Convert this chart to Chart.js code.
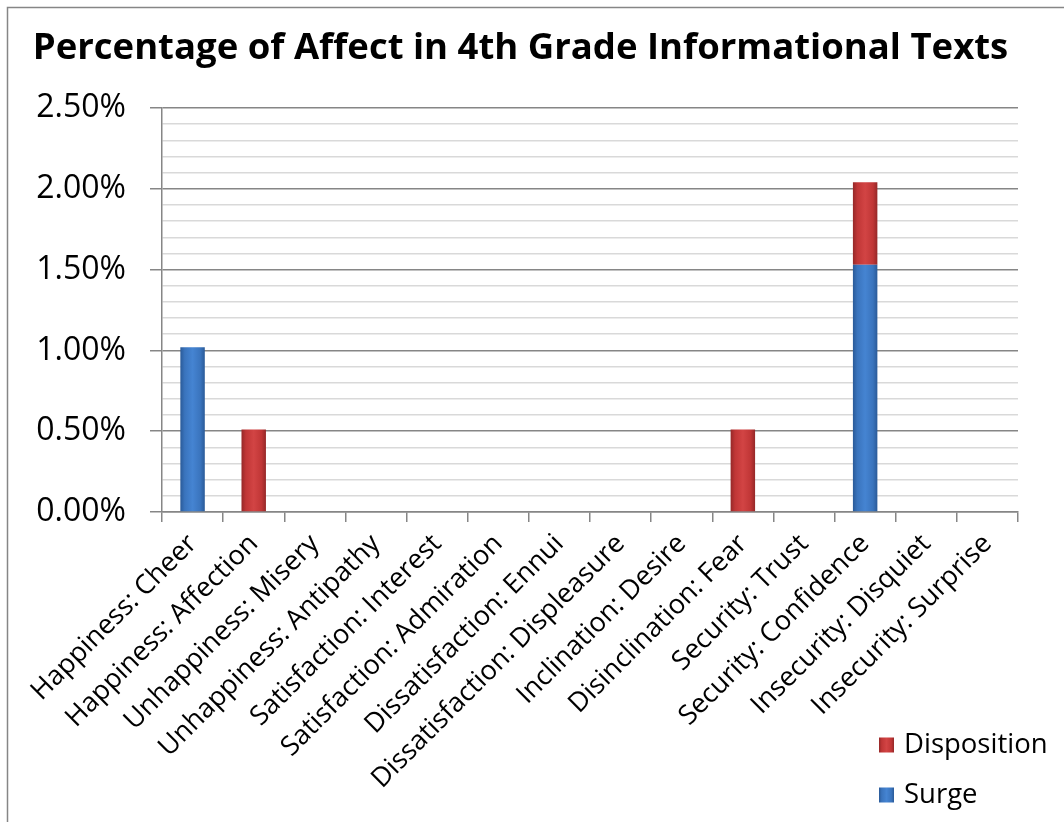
<!DOCTYPE html>
<html><head><meta charset="utf-8">
<script src="https://cdn.jsdelivr.net/npm/chart.js@4.4.1/dist/chart.umd.min.js"></script>
<style>html,body{margin:0;padding:0;background:#fff;}#wrap{position:relative;width:1064px;height:822px;}</style>
</head><body><div id="wrap"><canvas id="c" width="1064" height="822"></canvas></div>
<script>
const chartTitle = 'Percentage of Affect in 4th Grade Informational Texts';
const categories = ['Happiness: Cheer','Happiness: Affection','Unhappiness: Misery','Unhappiness: Antipathy','Satisfaction: Interest','Satisfaction: Admiration','Dissatisfaction: Ennui','Dissatisfaction: Displeasure','Inclination: Desire','Disinclination: Fear','Security: Trust','Security: Confidence','Insecurity: Disquiet','Insecurity: Surprise'];
const surgeValues       = [1.02,0,0,0,0,0,0,0,0,0,0,1.53,0,0];
const dispositionValues = [0,0.51,0,0,0,0,0,0,0,0.51,0,0.51,0,0];
const seriesNames = ['Surge','Disposition'];
const yMin = 0, yMax = 2.5, yStep = 0.1, yMajorEvery = 5;

const FONT = '"Open Sans"';
const BAR_PCT = 0.4;
const palettes = {
  Surge: {edge:'#2a5a98', mid:'#4584d2', base:'#3a74bd'},
  Disposition: {edge:'#952828', mid:'#d24444', base:'#c03636'}
};
function makeGrad(c, x0, x1, p){
  const g = c.createLinearGradient(x0,0,x1,0);
  g.addColorStop(0,p.edge); g.addColorStop(0.18,p.base); g.addColorStop(0.5,p.mid);
  g.addColorStop(0.82,p.base); g.addColorStop(1,p.edge);
  return g;
}
function barFill(name){
  const p = palettes[name];
  return ctx => {
    const chart = ctx.chart, xs = chart.scales && chart.scales.x;
    if (ctx.type !== 'data' || !xs || !chart.chartArea) return p.base;
    const cx = xs.getPixelForValue(ctx.dataIndex);
    const w = xs.width / categories.length * BAR_PCT;
    return makeGrad(chart.ctx, cx - w/2, cx + w/2, p);
  };
}

const frame = {
  id:'frame',
  beforeDraw(chart){
    const c = chart.ctx; c.save();
    c.strokeStyle = '#868686'; c.lineWidth = 1.5;
    c.beginPath(); c.moveTo(7.5, chart.height); c.lineTo(7.5,7.5); c.lineTo(chart.width,7.5); c.stroke();
    c.restore();
  }
};
const sideLegend = {
  id:'sideLegend',
  afterDraw(chart){
    const c = chart.ctx; c.save();
    const ds = chart.data.datasets.slice().reverse();
    const x0 = 879, y0 = 745, gap = 50, box = 15;
    c.font = '27.5px ' + FONT; c.textBaseline = 'middle'; c.fillStyle = '#000';
    ds.forEach((d, i) => {
      const y = y0 + i*gap;
      c.fillStyle = makeGrad(c, x0, x0+box, palettes[d.label]);
      c.fillRect(x0, y - box/2, box, box);
      c.fillStyle = '#000';
      c.fillText(d.label, x0 + box + 10, y);
    });
    c.restore();
  }
};

new Chart(document.getElementById('c'), {
  type:'bar',
  data:{
    labels: categories,
    datasets:[
      {label: seriesNames[0], data: surgeValues, backgroundColor: barFill('Surge'), borderWidth:0, barPercentage:BAR_PCT, categoryPercentage:1},
      {label: seriesNames[1], data: dispositionValues, backgroundColor: barFill('Disposition'), borderWidth:0, barPercentage:BAR_PCT, categoryPercentage:1}
    ]
  },
  options:{
    responsive:false, animation:false,
    layout:{padding:{left:23,right:46,top:0,bottom:0}},
    plugins:{
      legend:{display:false}, tooltip:{enabled:false},
      title:{display:true, text: chartTitle, color:'#000', font:{family:FONT, size:36.5, weight:'bold', lineHeight:1.2}, padding:{top:26.3,bottom:37.9}}
    },
    scales:{
      x:{
        stacked:true,
        grid:{offset:true, drawOnChartArea:false, drawTicks:true, tickLength:10, color:'#868686', lineWidth:1.5},
        border:{color:'#868686', width:1.5},
        ticks:{minRotation:45, maxRotation:45, autoSkip:false, color:'#000', font:{family:FONT, size:27}, padding:6},
        afterFit(s){ s.height = 310; }
      },
      y:{
        stacked:true, min:yMin, max:yMax,
        grid:{
          color: ctx => (ctx.index % yMajorEvery === 0) ? '#868686' : '#d9d9d9',
          tickColor: ctx => (ctx.index % yMajorEvery === 0) ? '#868686' : 'rgba(0,0,0,0)',
          lineWidth: 1.5,
          tickLength:12
        },
        border:{color:'#868686', width:1.5},
        ticks:{
          stepSize:yStep, autoSkip:false, color:'#000', padding:24,
          font:{family:FONT, size:32},
          callback:(v, i) => (i % yMajorEvery === 0) ? v.toFixed(2) + '%' : ''
        },
        afterFit(s){ s.width = 139; }
      }
    }
  },
  plugins:[frame, sideLegend]
});
</script></body></html>
